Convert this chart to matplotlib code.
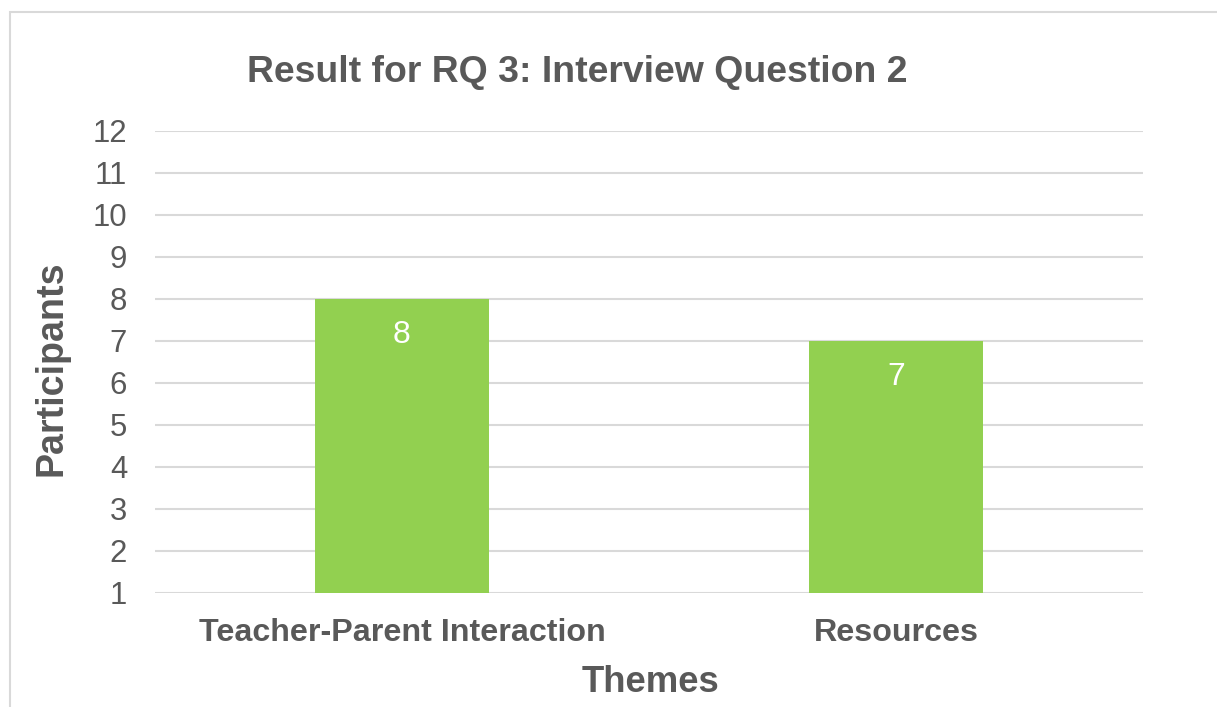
import matplotlib
matplotlib.use("Agg")
import matplotlib.pyplot as plt
from matplotlib.patches import Rectangle

categories = ["Teacher-Parent Interaction", "Resources"]
values = [8, 7]
y_ticks = list(range(1, 13))
title = "Result for RQ 3: Interview Question 2"
x_label = "Themes"
y_label = "Participants"

plt.rcParams['font.family'] = ['Liberation Sans', 'DejaVu Sans']
TXT = "#595959"
GRID = "#D9D9D9"
BAR = "#92D050"
W, H = 1217, 707

fig = plt.figure(figsize=(W / 100, H / 100), dpi=100)
fig.patches.append(Rectangle((10 / W, -0.1), 1.2, 1 - 12 / H + 0.1, transform=fig.transFigure,
                             fill=False, edgecolor=GRID, linewidth=1.5))
ax = fig.add_axes([155 / W, 1 - 593 / H, (1143 - 155) / W, (593 - 131) / H])

base = y_ticks[0]
x = list(range(len(categories)))
ax.bar(x, [v - base for v in values], bottom=base, width=0.354, color=BAR, zorder=3)
for xi, v in zip(x, values):
    ax.annotate(str(v), (xi, v), xytext=(0, -36), textcoords="offset pixels",
                ha="center", va="center", color="white", fontsize=23)

ax.set_xlim(-0.5, len(categories) - 0.5)
ax.set_ylim(y_ticks[0], y_ticks[-1])
ax.set_yticks(y_ticks)
ax.set_xticks(x)
ax.set_xticklabels(categories, fontweight="bold", fontsize=23.2, color=TXT)
ax.tick_params(axis="y", length=0, pad=20, labelsize=22.4, labelcolor=TXT)
ax.tick_params(axis="x", length=0, pad=18)
ax.grid(axis="y", color=GRID, linewidth=1.5, zorder=0)
for s in ax.spines.values():
    s.set_visible(False)

fig.text(650 / W, 1 - 682 / H, x_label, ha="center", va="center", fontsize=26.3,
         fontweight="bold", color=TXT)
fig.text(52 / W, 1 - 368 / H, y_label, ha="center", va="center", rotation=90,
         fontsize=27.1, fontweight="bold", color=TXT)
fig.text(577 / W, 1 - 73 / H, title, ha="center", va="center", fontsize=26.9,
         fontweight="bold", color=TXT)
fig.savefig("out.png", dpi=100)
